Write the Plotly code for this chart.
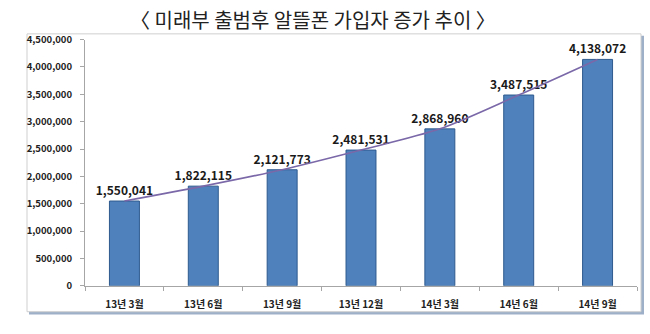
import plotly.graph_objects as go

# Subscriber counts by quarter
periods = ["13년 3월", "13년 6월", "13년 9월", "13년 12월", "14년 3월", "14년 6월", "14년 9월"]
subscribers = [1550041, 1822115, 2121773, 2481531, 2868960, 3487515, 4138072]
y_ticks = [0, 500000, 1000000, 1500000, 2000000, 2500000, 3000000, 3500000, 4000000, 4500000]
title_text = "〈 미래부 출범후 알뜰폰 가입자 증가 추이 〉"

W, H = 650, 334
FONT = "Noto Sans CJK KR"


def px_x(v):
    return v / W


def px_y(v):
    return 1 - v / H


fig = go.Figure()

fig.add_trace(go.Bar(
    x=periods,
    y=subscribers,
    width=0.38,
    marker=dict(color="#4F81BD", line=dict(color="#2E5A8E", width=1)),
    text=[f"{v:,}" for v in subscribers],
    textposition="outside",
    constraintext="none",
    textfont=dict(family=FONT, size=12, color="#1a1a1a", weight="bold"),
    cliponaxis=False,
    showlegend=False,
))

fig.add_trace(go.Scatter(
    x=periods,
    y=subscribers,
    mode="lines",
    line=dict(color="#7A68A8", width=1.6, shape="spline", smoothing=0.8),
    showlegend=False,
    hoverinfo="skip",
))

shapes = [
    # drop shadow of the chart frame
    dict(type="rect", xref="paper", yref="paper",
         x0=px_x(29), x1=px_x(644), y0=px_y(320), y1=px_y(29),
         fillcolor="#9DB0C8", line=dict(width=0), layer="below"),
    # chart frame
    dict(type="rect", xref="paper", yref="paper",
         x0=px_x(27), x1=px_x(641), y0=px_y(317), y1=px_y(27),
         fillcolor="white", line=dict(color="#CFCFCF", width=1), layer="below"),
]

fig.update_layout(
    width=W, height=H,
    margin=dict(l=0, r=0, t=0, b=0),
    paper_bgcolor="white",
    plot_bgcolor="rgba(0,0,0,0)",
    shapes=shapes,
    bargap=0.62,
    font=dict(family=FONT),
    annotations=[dict(
        text=title_text, xref="paper", yref="paper",
        x=px_x(313), y=px_y(12), xanchor="center", yanchor="middle",
        showarrow=False, font=dict(family=FONT, size=20, color="#222"),
    )],
    xaxis=dict(
        domain=[px_x(85), px_x(637)],
        showline=True, linecolor="#A6A6A6", linewidth=1,
        ticks="outside", ticklen=4, tickcolor="#A6A6A6",
        tickson="boundaries",
        ticklabelstandoff=9,
        tickfont=dict(family=FONT, size=10, color="#222", weight="bold"),
        showgrid=False,
        anchor="y",
    ),
    yaxis=dict(
        domain=[px_y(290), px_y(33)],
        range=[0, 4500000],
        tickvals=y_ticks,
        tickformat=",d",
        showline=True, linecolor="#A6A6A6", linewidth=1,
        ticks="outside", ticklen=4, tickcolor="#A6A6A6",
        ticklabelstandoff=6,
        tickfont=dict(family=FONT, size=9.5, color="#222", weight="bold"),
        showgrid=False, zeroline=False,
        anchor="x",
    ),
)

fig.write_html("out.html")
